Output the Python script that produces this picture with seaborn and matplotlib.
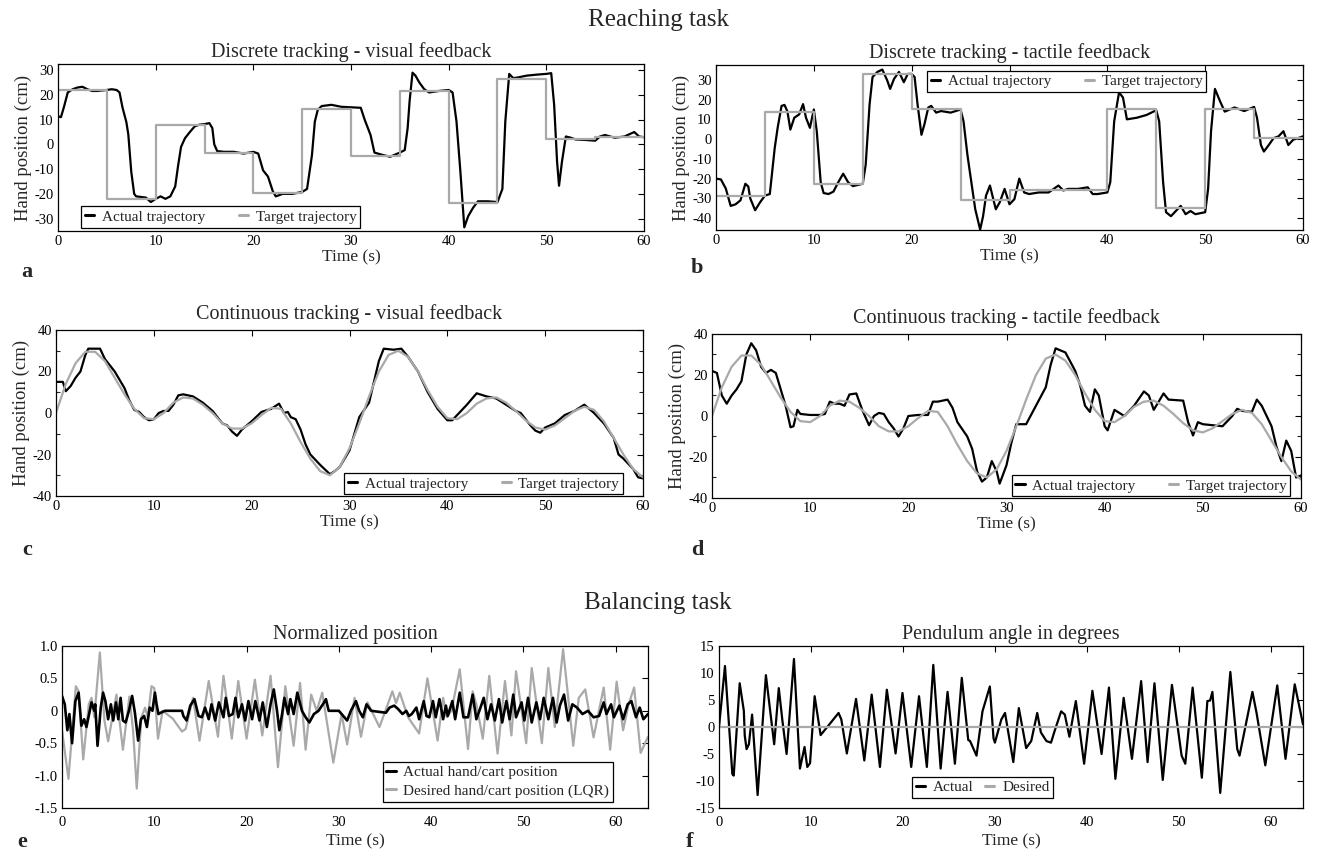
import numpy as np
import pandas as pd
import matplotlib
matplotlib.use("Agg")
import matplotlib.pyplot as plt
from matplotlib.ticker import MultipleLocator
import seaborn as sns

# ---------------- data ----------------
step_times = [0, 5, 10, 15, 20, 25, 30, 35, 40, 45, 50, 55, 60]
a_target = [22, -22, 8, -3.5, -19.5, 14.5, -4.5, 21.5, -23.5, 26.5, 2, 3, 3]
b_target = [-29, 13.5, -22.5, 33, 15, -31, -26, -26, 15, -35, 15, 0.5, 0.5]

a_actual = [(0, 11.4), (0.3, 11), (0.6, 15), (1, 21), (1.5, 22.3), (2, 23), (2.5, 23.3), (3, 22.3),
            (3.5, 21.6), (4, 21.6), (5, 22), (5.5, 22.3), (6, 22), (6.3, 21), (6.6, 15), (7, 9),
            (7.2, 4), (7.5, -11), (7.8, -20), (8, -21), (9, -21.5), (9.5, -23.3), (10, -22),
            (10.5, -21), (11, -22), (11.5, -21), (12, -17), (12.3, -8.5), (12.6, -1), (13, 2.5),
            (13.5, 5), (14, 7.3), (14.5, 8), (15, 8.2), (15.5, 8.6), (15.8, 6.6), (16, 0),
            (16.3, -2.7), (17, -3), (18, -3), (19, -3.7), (20, -3), (20.5, -3.7), (21, -10.5),
            (21.5, -13), (22, -19), (22.3, -21), (23, -20), (24, -20), (25, -19.2), (25.5, -18),
            (26, -4.4), (26.3, 9.3), (26.6, 14), (27, 15.5), (28, 16), (29, 15.2), (30, 15),
            (31, 14.8), (31.4, 10), (32, 3.8), (32.4, -3.3), (33, -4), (34, -5), (35, -3.3),
            (35.5, -2.3), (35.8, 6.6), (36, 17.5), (36.3, 29), (36.6, 27.8), (37, 25), (37.5, 22.3),
            (38, 21), (39, 21.6), (40, 22), (40.4, 21), (40.8, 9.3), (41.2, -11), (41.6, -33.5),
            (42, -29), (42.5, -25.6), (43, -23), (44, -23), (45, -23.3), (45.5, -18), (45.8, 9.3),
            (46.2, 28.5), (46.6, 26.8), (47, 27), (48, 27.8), (49, 28.2), (50, 28.5), (50.5, 28.8),
            (50.8, 16), (51.1, -7), (51.3, -16.7), (51.6, -7), (52, 3.2), (52.5, 2.7), (53, 2),
            (54, 1.8), (55, 1.5), (55.5, 3.2), (56, 3.8), (57, 2.7), (58, 3.2), (59, 5),
            (59.5, 3.2), (60, 2.9)]

b_actual = [(0, -20), (0.5, -20.4), (1, -25), (1.5, -33.8), (2, -33), (2.5, -31), (3, -22.6),
            (3.3, -24), (3.5, -30), (4, -36), (4.5, -32), (5, -28.6), (5.5, -27.8), (6, -4.6),
            (6.3, 5.7), (6.7, 16.8), (7, 17.3), (7.3, 14), (7.6, 4.8), (8, 10.8), (8.5, 12.5),
            (8.9, 17.7), (9.2, 10.8), (9.6, 5.7), (10, 15), (10.3, 4), (10.7, -21.8), (11, -27.3),
            (11.5, -27.8), (12, -26.6), (12.5, -21.8), (13, -17.5), (13.5, -21.8), (14, -23.8),
            (15, -22.6), (15.3, -13), (15.7, 17.7), (16, 31.4), (16.5, 34), (17, 35.2), (17.5, 29.7),
            (17.8, 25.4), (18.2, 30.5), (18.7, 34), (19.2, 28.8), (19.6, 33), (20, 33), (20.3, 31.4),
            (20.6, 17.7), (21, 2.2), (21.3, 7.4), (21.7, 16), (22, 16.8), (22.5, 13.4), (23, 14.2),
            (24, 13.4), (25, 15), (25.3, 9), (25.7, -8), (26, -18.4), (26.5, -35.5), (27, -45.8),
            (27.3, -39), (27.6, -28.6), (28, -23.5), (28.3, -29.5), (28.6, -35.5), (29, -32),
            (29.5, -25.2), (30, -33), (30.5, -30.4), (31, -20), (31.5, -27), (32, -27.8), (33, -27),
            (34, -27), (35, -23.5), (35.5, -26), (36, -25.2), (37, -25.2), (38, -24.4), (38.5, -27.8),
            (39, -27.8), (40, -27), (40.3, -21.8), (40.7, 9), (41.2, 23.7), (41.6, 21), (42, 10),
            (43, 10.8), (44, 12.2), (45, 14.6), (45.3, 9), (45.7, -21.8), (46, -37), (46.5, -39),
            (47, -36.4), (47.5, -33.8), (48, -38), (48.5, -36.4), (49, -38), (50, -37), (50.3, -25.2),
            (50.6, 4), (51, 25.4), (51.5, 19.4), (52, 13.9), (53, 16), (54, 14.2), (55, 16.3),
            (55.3, 10.8), (55.7, -3), (56, -6.3), (56.5, -3), (57, 0.5), (57.5, 1.4), (58, 4),
            (58.5, -3), (59, -0.3), (59.5, 0.5), (60, 1.4)]

cont_times = list(range(0, 61))
cont_target = [0, 14, 24, 29.5, 29.5, 25, 17, 9, 2, -2.5, -3, 0, 5, 7.5, 7, 4, 0, -5, -7.5, -7.5,
               -5, -1, 2.5, 2, -5, -14, -22, -28, -30, -26, -17, -5, 8, 20, 28, 30, 27, 20, 11, 3,
               -2.5, -3, 0, 4.5, 7, 7.5, 5, 1, -3.5, -7, -8, -6, -2.5, 1, 3, 1.5, -4, -12, -20, -27, -31]

c_actual = [(0, 15), (0.7, 15), (1, 10.5), (1.5, 13), (2, 17), (2.5, 20), (3, 28), (3.3, 31), (4, 31),
            (4.5, 31), (5, 26), (6, 20), (7, 12), (7.5, 6), (8, 1.5), (8.5, 0.5), (9, -2), (9.5, -3.5),
            (10, -3), (10.5, 0), (11, 1), (11.5, 1), (12, 4), (12.5, 8.5), (13, 9), (14, 8), (15, 5),
            (16, 1), (17, -5), (17.5, -6), (18, -9), (18.5, -11), (19, -8), (20, -4), (21, 0.5),
            (22, 2), (22.8, 4.5), (23.3, 0), (23.7, 0.5), (24, -2), (24.5, -3), (25, -8), (25.5, -15),
            (26, -20), (27, -25), (28, -29.5), (28.5, -28), (29, -26), (30, -18), (30.5, -10),
            (31, -2), (32, 5), (32.5, 15), (33, 25), (33.5, 31), (34.5, 30.5), (35.3, 31), (36, 27),
            (37, 20), (38, 10), (39, 2), (40, -3.5), (40.5, -3.5), (41, -1), (42, 4), (43, 9.5),
            (44, 8), (45, 7), (46, 4), (47, 1), (47.5, 0), (48, -3), (48.5, -6), (49, -8.5),
            (49.5, -9.5), (50, -7), (51, -5), (52, -1), (53, 1), (54, 4), (55, 0), (56, -5),
            (57, -12), (57.5, -20), (58, -22), (59, -27), (59.5, -31), (60, -31.5)]

d_actual = [(0, 22), (0.5, 21), (1, 10), (1.5, 6), (2, 10), (2.5, 13), (3, 17), (3.5, 30), (4, 35.5),
            (4.5, 32), (5, 24), (5.5, 21), (6, 22.5), (6.5, 21), (7, 13), (7.5, 5), (8, -5.5),
            (8.3, -5), (8.7, 3), (9, 1), (10, 0.5), (11, 0.5), (11.5, 1), (12, 7), (12.5, 6), (13, 6),
            (13.5, 5), (14, 10.5), (14.7, 11), (15.3, 3), (16, -4.5), (16.5, 0), (17, 1.5), (17.5, 1),
            (18, -3), (18.5, -6), (19, -10), (19.5, -6), (20, 0), (21, 0.5), (22, 0.5), (22.5, 7),
            (23, 7), (24, 8), (24.5, 4), (25, -3), (26, -10), (26.5, -16), (27, -27), (27.5, -32),
            (28, -30), (28.5, -22), (29, -27), (29.3, -33), (30, -24), (30.5, -13), (31, -4), (32, -4),
            (33, 5), (34, 14), (34.5, 25), (35, 33), (36, 31), (37, 22), (37.5, 15), (38, 5), (38.5, 2),
            (39, 13), (39.4, 10), (40, -5), (40.3, -7), (41, 3), (42, 0), (43, 5), (44, 12), (44.5, 10),
            (45, 3), (46, 11), (46.5, 8), (48, 7.5), (48.5, -3), (49, -9.5), (49.5, -3), (50, -4),
            (52, -5), (53, 0), (53.5, 3.5), (54, 2.5), (55, 2), (55.5, 8), (56, 5), (57, -5),
            (57.5, -15), (58, -22), (58.5, -12), (59, -17), (59.5, -30), (60, -29)]

e_desired = [(0, -0.3), (0.7, -1.05), (1.5, 0.38), (1.8, 0.3), (2.3, -0.75), (2.9, 0.1), (3.2, 0.2),
             (3.5, -0.1), (4.1, 0.9), (4.6, -0.15), (5.0, -0.47), (5.9, 0.25), (6.6, -0.6), (7.3, 0.22),
             (7.7, -0.3), (8.1, -1.2), (8.6, -0.1), (9.0, 0.05), (9.3, -0.1), (9.7, 0.38), (10.0, 0.35),
             (10.4, -0.43), (10.9, 0.0), (12.0, -0.12), (13.0, -0.32), (13.4, -0.28), (14.2, 0.2),
             (14.9, -0.46), (15.9, 0.46), (16.9, -0.4), (17.5, 0.54), (18.4, -0.43), (19.1, 0.46),
             (20.0, -0.43), (20.9, 0.48), (21.7, -0.38), (22.6, 0.54), (23.4, -0.87), (24.2, 0.38),
             (25.1, -0.54), (25.8, 0.43), (26.4, -0.6), (27.0, 0.25), (27.6, 0.0), (28.2, 0.28),
             (29.4, -0.8), (30.3, -0.05), (30.9, -0.52), (31.7, 0.2), (32.4, -0.4), (33.1, 0.13),
             (34.4, -0.25), (35.3, 0.1), (35.8, 0.3), (36.2, 0.12), (36.6, 0.28), (37.5, -0.1),
             (38.7, -0.35), (39.6, 0.5), (40.7, -0.46), (41.3, 0.2), (41.7, -0.1), (42.2, 0.0),
             (43.1, 0.64), (44.0, -0.59), (44.5, 0.3), (44.9, 0.1), (45.6, -0.43), (46.3, 0.54),
             (47.2, -0.66), (48.0, 0.46), (48.7, -0.38), (49.2, 0.61), (50.3, -0.5), (50.9, 0.66),
             (52.0, -0.5), (52.7, 0.66), (53.4, -0.25), (54.3, 0.95), (55.4, -0.54), (56.0, 0.2),
             (56.7, 0.33), (57.6, -0.41), (58.7, 0.36), (59.4, -0.6), (60.1, 0.45), (60.8, -0.3),
             (61.4, 0.1), (62.0, 0.36), (62.7, -0.65), (63.5, -0.4)]

e_actual = [(0, 0.23), (0.3, 0.1), (0.58, -0.3), (0.8, -0.05), (1.09, -0.5), (1.45, 0.15), (1.8, 0.28),
            (2.1, -0.23), (2.4, -0.13), (2.65, -0.25), (3.2, 0.13), (3.5, 0.0), (3.6, 0.1), (3.85, -0.54),
            (4.2, 0.05), (4.45, 0.28), (4.7, 0.15), (5.0, -0.13), (5.3, 0.1), (5.55, -0.15), (5.85, 0.13),
            (6.1, -0.13), (6.35, 0.2), (6.6, -0.15), (6.9, -0.18), (7.25, 0.0), (7.6, 0.23), (7.9, -0.03),
            (8.25, -0.46), (8.55, -0.13), (8.9, -0.08), (9.2, -0.25), (9.5, 0.05), (9.8, 0.0),
            (10.07, 0.28), (10.25, 0.1), (10.45, -0.05), (10.7, -0.03), (11.15, 0.0), (13.0, 0.0),
            (13.15, -0.08), (13.5, -0.15), (13.9, 0.08), (14.35, 0.18), (14.8, -0.08), (15.15, -0.1),
            (15.5, 0.05), (15.9, -0.13), (16.2, 0.1), (16.6, -0.15), (17.0, 0.13), (17.5, -0.1),
            (17.75, 0.2), (18.1, -0.08), (18.5, -0.05), (18.8, 0.2), (19.1, -0.1), (19.5, 0.1),
            (19.85, -0.15), (20.2, 0.15), (20.6, -0.13), (20.95, 0.15), (21.4, -0.15), (21.75, 0.13),
            (22.2, -0.25), (22.6, 0.1), (22.95, 0.33), (23.3, 0.0), (23.55, -0.3), (23.85, -0.05),
            (24.1, 0.2), (24.5, -0.05), (24.75, 0.18), (25.1, -0.05), (25.5, 0.28), (26.0, 0.0),
            (26.4, -0.1), (26.8, -0.18), (27.3, -0.05), (27.8, 0.0), (28.4, 0.13), (28.6, 0.18),
            (28.9, 0.0), (30.0, 0.0), (30.9, -0.15), (31.3, 0.0), (31.85, 0.15), (32.2, 0.0),
            (32.6, -0.1), (33.0, 0.1), (33.5, 0.0), (35.1, -0.03), (35.5, 0.05), (36.0, 0.08),
            (36.4, 0.03), (36.9, -0.05), (37.3, 0.0), (37.6, -0.08), (37.9, -0.05), (38.4, 0.05),
            (38.7, -0.13), (39.2, 0.15), (39.5, -0.08), (39.8, -0.1), (40.2, 0.15), (40.5, -0.1),
            (40.9, 0.18), (41.3, -0.13), (41.6, 0.08), (41.8, -0.08), (42.3, 0.15), (42.6, -0.13),
            (43.1, 0.28), (43.5, -0.1), (44.0, -0.1), (44.5, 0.25), (44.9, -0.13), (45.3, 0.03),
            (45.7, 0.2), (46.1, -0.13), (46.5, 0.1), (46.9, -0.15), (47.35, 0.18), (47.7, -0.18),
            (48.15, 0.15), (48.5, -0.13), (48.9, 0.25), (49.2, -0.1), (49.8, 0.13), (50.1, -0.15),
            (50.5, 0.2), (50.9, -0.18), (51.4, 0.13), (51.8, -0.13), (52.2, 0.2), (52.7, -0.13),
            (53.2, 0.2), (53.6, -0.18), (53.95, 0.08), (54.4, 0.25), (54.85, -0.15), (55.3, 0.1),
            (55.8, 0.05), (56.4, -0.05), (57.0, 0.0), (57.6, -0.1), (58.2, -0.08), (58.7, 0.13),
            (59.0, -0.05), (59.5, 0.1), (59.8, -0.1), (60.4, 0.08), (60.8, -0.13), (61.3, 0.1),
            (61.7, 0.15), (62.2, -0.1), (62.6, 0.05), (63.0, -0.13), (63.5, -0.05)]

f_desired = [(0, 0), (63.5, 0)]
f_actual = [(0, 0), (0.65, 11.3), (1.45, -8.7), (1.6, -9), (2.25, 8.1), (2.7, 3), (2.8, -1.6), (3.0, -4.1),
            (3.25, -3.2), (3.6, 2.3), (4.2, -12.6), (5.1, 9.6), (6.0, -3.2), (6.5, 7.2), (6.9, 1.1),
            (7.35, -5), (8.15, 12.6), (8.8, -7.7), (9.3, -3.7), (9.6, -7.4), (9.9, -6.7), (10.4, 5.7),
            (11.05, -1.5), (12.15, 0.8), (13.0, 2.6), (13.3, 1.4), (13.9, -4.9), (14.9, 5.2),
            (15.8, -6.2), (16.6, 6), (17.5, -7.4), (18.25, 6.9), (19.2, -4.9), (19.95, 6.3),
            (20.9, -7.4), (21.75, 5.7), (22.6, -7.4), (23.3, 11.5), (24.1, -7.7), (24.85, 6.5),
            (25.65, -6.8), (26.4, 9.1), (27.1, -2.4), (27.3, -2.6), (28.0, -5.3), (28.65, 2.9),
            (29.45, 7.5), (29.85, -2.1), (30.0, -2.9), (30.7, 1.4), (31.1, 2.6), (32.0, -6.5),
            (32.6, 3.5), (33.4, -3.9), (33.95, -2.6), (34.6, 2.6), (35.0, -1), (35.6, -2.6),
            (36.1, -2.9), (36.5, -0.7), (37.2, 2.9), (37.6, 2.3), (38.1, -1.8), (38.8, 4.8),
            (39.7, -6.8), (40.6, 6.7), (41.6, -5), (42.4, 7.3), (43.1, -9.6), (44.0, 5.4),
            (44.9, -5.9), (45.9, 8.5), (46.6, -6.5), (47.35, 8.1), (48.25, -9.8), (49.25, 7.8),
            (50.3, -5.3), (50.7, -6.8), (51.5, 7.3), (52.5, -9.4), (53.1, 4.8), (53.4, 4.9),
            (53.65, 6.5), (54.5, -12.2), (55.6, 10.2), (56.35, -4.1), (56.6, -5.3), (58.0, 6.5),
            (58.45, 2.6), (59.4, -7.1), (60.7, 7.7), (61.6, -5.9), (62.6, 7.9), (63.5, 0.5)]

x_ticks = [0, 10, 20, 30, 40, 50, 60]
a_yticks = [-30, -20, -10, 0, 10, 20, 30]
b_yticks = [-40, -30, -20, -10, 0, 10, 20, 30]
cd_yticks = [-40, -20, 0, 20, 40]
e_yticks = [-1.5, -1.0, -0.5, 0, 0.5, 1.0]
e_yticklabels = ["-1.5", "-1.0", "-0.5", "0", "0.5", "1.0"]
f_yticks = [-15, -10, -5, 0, 5, 10, 15]

titles = ["Discrete tracking - visual feedback", "Discrete tracking - tactile feedback",
          "Continuous tracking - visual feedback", "Continuous tracking - tactile feedback",
          "Normalized position", "Pendulum angle in degrees"]

# ---------------- style ----------------
sns.set_theme(style="white")
plt.rcParams['font.family'] = ['Liberation Serif', 'DejaVu Serif']
plt.rcParams['axes.unicode_minus'] = False

BLACK = "#000000"
GRAY = "#a9a9a9"
W, H = 1317, 851
fig = plt.figure(figsize=(W / 100, H / 100), dpi=100)
fig.patch.set_facecolor("white")


def add_ax(l, r, t, b):
    return fig.add_axes([l / W, 1 - b / H, (r - l) / W, (b - t) / H])


def unzip(pts):
    return [p[0] for p in pts], [p[1] for p in pts]


def line(ax, x, y, color, lw, label, steps=False):
    kw = dict(drawstyle="steps-post") if steps else {}
    sns.lineplot(x=x, y=y, ax=ax, color=color, lw=lw, label=label,
                 estimator=None, sort=False, solid_joinstyle="round", **kw)


def style_axes(ax, xlim, ylim, xticks, yticks, ylabels=None, ylabel=None, xpad=3, xlabelpad=1):
    ax.set_xlim(*xlim)
    ax.set_ylim(*ylim)
    ax.set_xticks(xticks)
    ax.set_yticks(yticks)
    if ylabels is not None:
        ax.set_yticklabels(ylabels)
    ax.tick_params(direction="in", top=True, right=True, length=4, width=0.8,
                   colors="black", labelsize=10.5, pad=3)
    ax.tick_params(axis="x", pad=xpad)
    for s in ax.spines.values():
        s.set_color("black")
        s.set_linewidth(0.9)
    ax.set_xlabel("Time (s)", fontsize=12.5, labelpad=xlabelpad)
    if ylabel:
        ax.set_ylabel(ylabel, fontsize=13.5, labelpad=2)
    else:
        ax.set_ylabel("")


def legend(ax, order, **kw):
    h, l = ax.get_legend_handles_labels()
    d = dict(zip(l, h))
    leg = ax.legend([d[k] for k in order], order, frameon=True, fancybox=False,
                    edgecolor="black", framealpha=1, fontsize=11, handlelength=0.6,
                    handletextpad=0.5, borderpad=0.25, borderaxespad=0, **kw)
    leg.get_frame().set_linewidth(0.9)
    for ln in leg.get_lines():
        ln.set_linewidth(2.2)
    return leg


ylab = "Hand position (cm)"
lw = 1.6

# panel a
ax = add_ax(58, 644, 64, 231)
t, v = unzip(a_actual)
line(ax, t, v, BLACK, lw, "Actual trajectory")
line(ax, step_times, a_target, GRAY, lw, "Target trajectory", steps=True)
style_axes(ax, (0, 60), (-35, 32.5), x_ticks, a_yticks, ylabel=ylab)
ax.set_title(titles[0], fontsize=14.5, pad=5)
legend(ax, ["Actual trajectory", "Target trajectory"], loc="lower left",
       bbox_to_anchor=(0.04, 0.02), ncol=2, columnspacing=2.2)

# panel b
ax = add_ax(716, 1303, 65, 230)
t, v = unzip(b_actual)
line(ax, t, v, BLACK, lw, "Actual trajectory")
line(ax, step_times, b_target, GRAY, lw, "Target trajectory", steps=True)
style_axes(ax, (0, 60), (-46, 37.5), x_ticks, b_yticks, ylabel=ylab)
ax.set_title(titles[1], fontsize=14.5, pad=5)
legend(ax, ["Actual trajectory", "Target trajectory"], loc="upper left",
       bbox_to_anchor=(0.36, 0.965), ncol=2, columnspacing=2.2)

# panel c
ax = add_ax(56, 643, 330, 496)
t, v = unzip(c_actual)
line(ax, t, v, BLACK, lw, "Actual trajectory")
line(ax, cont_times, cont_target, GRAY, lw, "Target trajectory")
style_axes(ax, (0, 60), (-40, 40), x_ticks, cd_yticks, ylabel=ylab)
ax.yaxis.set_minor_locator(MultipleLocator(10))
ax.tick_params(which="minor", direction="in", right=True, left=True, length=3, width=0.8)
ax.set_title(titles[2], fontsize=14.5, pad=8)
legend(ax, ["Actual trajectory", "Target trajectory"], loc="lower right",
       bbox_to_anchor=(0.966, 0.01), ncol=2, columnspacing=2.2)

# panel d
ax = add_ax(712, 1301, 334, 498)
t, v = unzip(d_actual)
line(ax, t, v, BLACK, lw, "Actual trajectory")
line(ax, cont_times, cont_target, GRAY, lw, "Target trajectory")
style_axes(ax, (0, 60), (-40, 40), x_ticks, cd_yticks, ylabel=ylab)
ax.yaxis.set_minor_locator(MultipleLocator(10))
ax.tick_params(which="minor", direction="in", right=True, left=True, length=3, width=0.8)
ax.set_title(titles[3], fontsize=14.5, pad=8)
legend(ax, ["Actual trajectory", "Target trajectory"], loc="lower right",
       bbox_to_anchor=(0.982, 0.01), ncol=2, columnspacing=2.2)

# panel e
ax = add_ax(62, 648, 646, 808)
t, v = unzip(e_desired)
line(ax, t, v, GRAY, lw, "Desired hand/cart position (LQR)")
t, v = unzip(e_actual)
line(ax, t, v, BLACK, 1.9, "Actual hand/cart position")
style_axes(ax, (0, 63.5), (-1.5, 1.0), x_ticks, e_yticks, ylabels=e_yticklabels,
           xpad=6, xlabelpad=3)
ax.set_title(titles[4], fontsize=14.5, pad=5)
legend(ax, ["Actual hand/cart position", "Desired hand/cart position (LQR)"],
       loc="lower left", bbox_to_anchor=(0.547, 0.04), ncol=1, labelspacing=0.3)

# panel f
ax = add_ax(719, 1303, 646, 808)
t, v = unzip(f_actual)
line(ax, t, v, BLACK, lw, "Actual")
t, v = unzip(f_desired)
line(ax, t, v, GRAY, lw, "Desired")
style_axes(ax, (0, 63.5), (-15, 15), x_ticks, f_yticks, xpad=6, xlabelpad=3)
ax.set_title(titles[5], fontsize=14.5, pad=5)
legend(ax, ["Actual", "Desired"], loc="lower left", bbox_to_anchor=(0.33, 0.06),
       ncol=2, columnspacing=0.8)

# section headings and panel letters
fig.text(658 / W, 1 - 20 / H, "Reaching task", ha="center", va="center", fontsize=18)
fig.text(658 / W, 1 - 603 / H, "Balancing task", ha="center", va="center", fontsize=18)
for letter, (x, y) in {"a": (27, 272), "b": (697, 268), "c": (27, 550), "d": (697, 550),
                       "e": (22, 842), "f": (690, 842)}.items():
    fig.text(x / W, 1 - y / H, letter, ha="center", va="center", fontsize=16, fontweight="bold")

fig.savefig("out.png", dpi=100, facecolor="white")
